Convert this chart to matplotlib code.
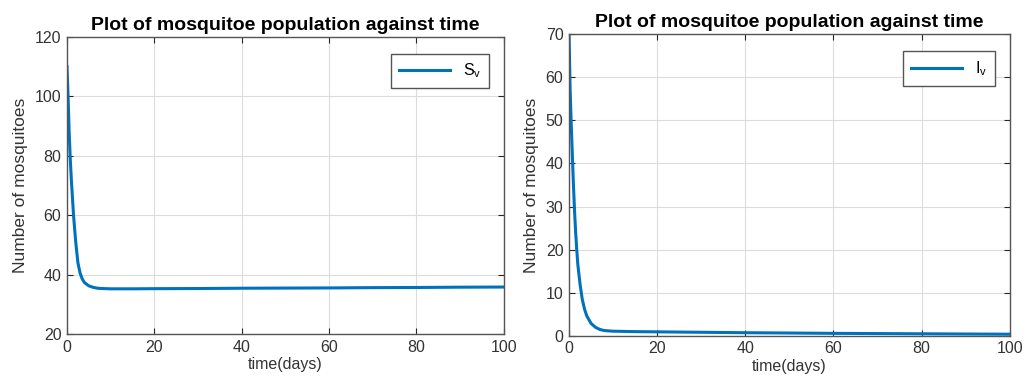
import numpy as np
import matplotlib
matplotlib.use('Agg')
import matplotlib.pyplot as plt

plt.rcParams['font.family'] = ['Liberation Sans', 'DejaVu Sans']
plt.rcParams['mathtext.default'] = 'regular'

# values
t_s = [0, 0.25, 0.5, 0.75, 1, 1.5, 2, 2.5, 3, 3.5, 4, 5, 6, 7, 8, 10, 12, 15,
       20, 30, 40, 50, 60, 70, 80, 90, 100]
S_v = [110, 100, 88, 79, 72, 60, 51, 44, 40.5, 38.5, 37.3, 36.2, 35.7, 35.4, 35.3,
       35.2, 35.2, 35.2, 35.25, 35.3, 35.4, 35.45, 35.5, 35.6, 35.65, 35.75, 35.8]

t_i = [0, 0.25, 0.5, 0.75, 1, 1.25, 1.5, 1.75, 2, 2.5, 3, 3.5, 4, 5, 6, 7, 8, 10,
       15, 20, 30, 40, 50, 60, 70, 80, 90, 100]
I_v = [70, 57, 49, 42, 35, 29, 24, 20, 16.5, 12, 8.5, 6.3, 4.7, 2.9, 2.0, 1.5,
       1.25, 1.1, 1.0, 0.95, 0.85, 0.75, 0.68, 0.6, 0.55, 0.5, 0.45, 0.4]

title = 'Plot of mosquitoe population against time'
xlab = 'time(days)'
ylab = 'Number of mosquitoes'

blue = '#0072BD'
axcol = '#262626'

fig = plt.figure(figsize=(10.24, 3.92), dpi=100)
ax1 = fig.add_axes([0.0654, 0.148, 0.4266, 0.758])
ax2 = fig.add_axes([0.5557, 0.143, 0.4303, 0.770])


def style(ax, ylim, yticks, label, t, y):
    ax.plot(t, y, color=blue, linewidth=2.2, label=label)
    ax.set_xlim(0, 100)
    ax.set_ylim(*ylim)
    ax.set_xticks(np.arange(0, 101, 20))
    ax.set_yticks(yticks)
    ax.grid(True, color='#dcdcdc', linewidth=0.8)
    ax.tick_params(direction='in', top=True, right=True, length=4,
                   colors=axcol, labelsize=11.5, labelcolor='#333333', pad=4)
    for s in ax.spines.values():
        s.set_color('#555555')
        s.set_linewidth(1.0)
    ax.set_title(title, fontsize=14, fontweight='bold', pad=5)
    ax.set_xlabel(xlab, fontsize=11.5, color='#333333', labelpad=2)
    ax.set_ylabel(ylab, fontsize=12.5, color='#333333', labelpad=5)
    leg = ax.legend(loc='upper right', fontsize=11.5, handlelength=3.2,
                    fancybox=False, framealpha=1, borderpad=0.5,
                    bbox_to_anchor=(0.985, 0.97))
    leg.get_frame().set_edgecolor('#555555')
    leg.get_frame().set_linewidth(1.0)


style(ax1, (20, 120), np.arange(20, 121, 20), 'S$_v$', t_s, S_v)
style(ax2, (0, 70), np.arange(0, 71, 10), 'I$_v$', t_i, I_v)

plt.savefig('out.png', dpi=100)
